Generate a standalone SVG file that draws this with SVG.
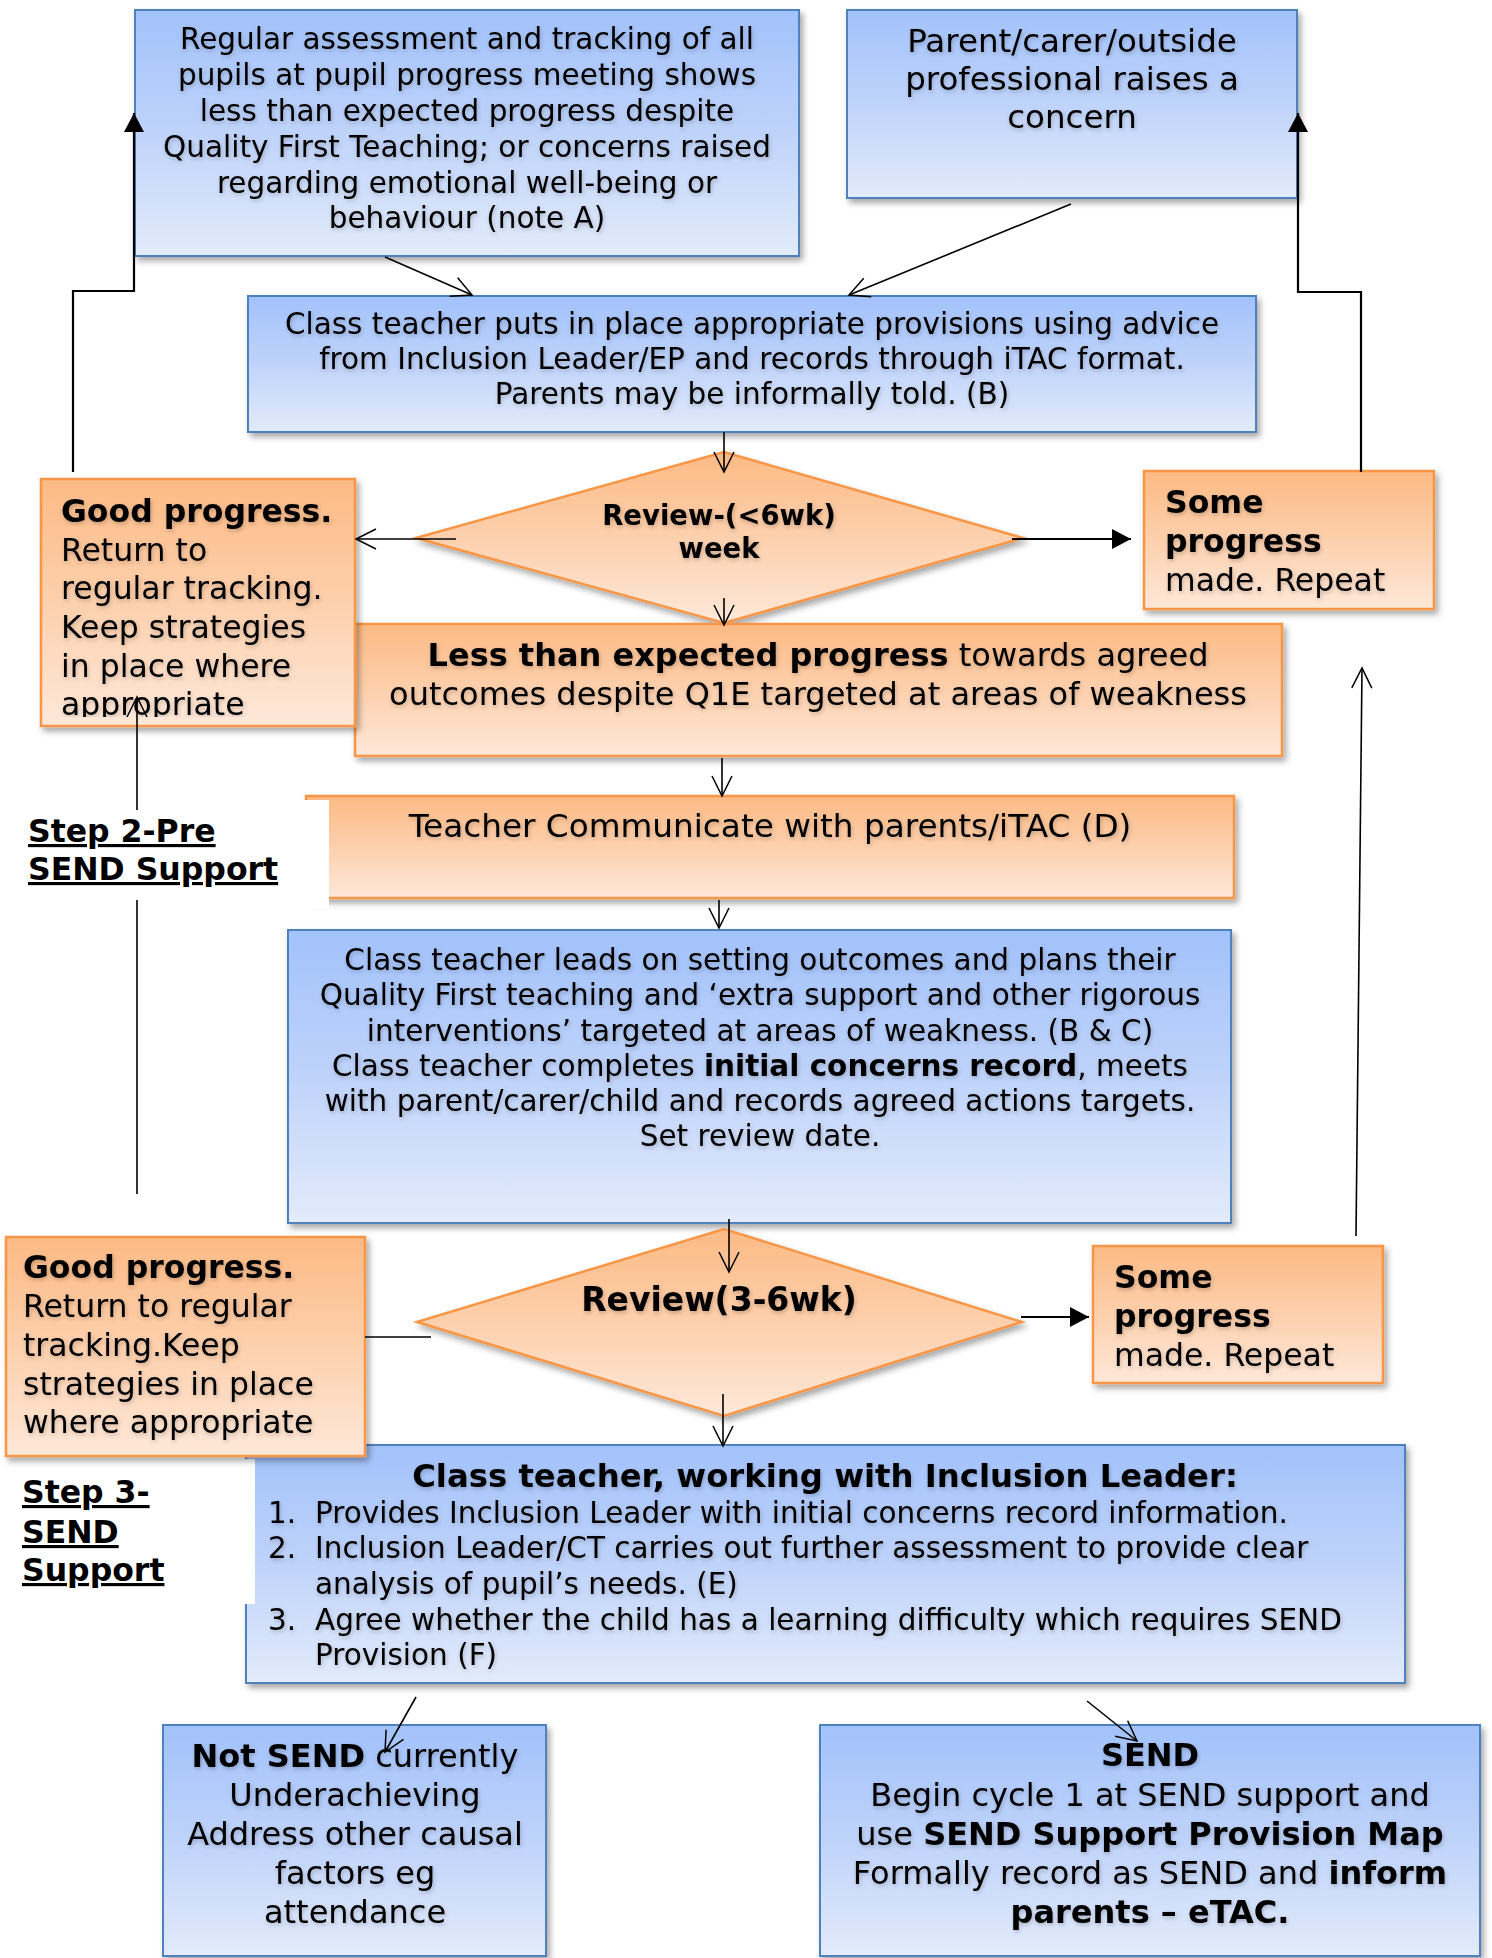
<svg xmlns="http://www.w3.org/2000/svg" width="1492" height="1958" viewBox="0 0 1492 1958">
<style>
text{font-family:"DejaVu Sans",Verdana,sans-serif;fill:#000}
.c{text-anchor:middle}
.b{font-weight:bold}
.blue{fill:url(#gb);stroke:#4f81bd;stroke-width:2}
.org{fill:url(#go);stroke:#f79646;stroke-width:2.5}
.ln{fill:none;stroke:#000;stroke-width:1.6}
.lp{fill:none;stroke:#000;stroke-width:2.2}
.f29{font-size:29.5px}
.f31{font-size:31.5px}
.f32{font-size:32px}
.u{text-decoration:underline}
.ts{filter:url(#tsh)}
</style>
<defs>
<linearGradient id="gb" x1="0" y1="0" x2="0" y2="1"><stop offset="0" stop-color="#a2c2fb"/><stop offset="0.5" stop-color="#bfd3fa"/><stop offset="1" stop-color="#e3ebfb"/></linearGradient>
<linearGradient id="go" x1="0" y1="0" x2="0" y2="1"><stop offset="0" stop-color="#fcba84"/><stop offset="0.5" stop-color="#fdd0ad"/><stop offset="1" stop-color="#fee8d9"/></linearGradient>
<filter id="sh" x="-5%" y="-5%" width="115%" height="125%"><feDropShadow dx="3" dy="4" stdDeviation="3" flood-color="#000" flood-opacity="0.35"/></filter>
<filter id="tsh" x="-5%" y="-10%" width="110%" height="130%"><feDropShadow dx="1" dy="2" stdDeviation="2" flood-color="#000" flood-opacity="0.22"/></filter>
<marker id="open" markerUnits="userSpaceOnUse" markerWidth="26" markerHeight="24" refX="20" refY="11" orient="auto" overflow="visible"><path d="M0,1 L20,11 L0,21" fill="none" stroke="#000" stroke-width="1.5"/></marker>
<marker id="fill" markerUnits="userSpaceOnUse" markerWidth="22" markerHeight="22" refX="19" refY="10" orient="auto" overflow="visible"><path d="M0,0 L19,10 L0,20 Z" fill="#000"/></marker>
<clipPath id="clipGood1"><rect x="41" y="479" width="314" height="238"/></clipPath>
</defs>

<g id="nodeA">
<rect class="blue" x="135" y="10" width="664" height="246" filter="url(#sh)"/>
<g class="ts">
<text class="c f29" x="467" y="49">Regular assessment and tracking of all</text>
<text class="c f29" x="467" y="85">pupils at pupil progress meeting shows</text>
<text class="c f29" x="467" y="121">less than expected progress despite</text>
<text class="c f29" x="467" y="157">Quality First Teaching; or concerns raised</text>
<text class="c f29" x="467" y="193">regarding emotional well-being or</text>
<text class="c f29" x="467" y="228">behaviour (note A)</text>
</g>
</g>

<g id="nodeB">
<rect class="blue" x="847" y="10" width="450" height="188" filter="url(#sh)"/>
<g class="ts">
<text class="c" style="font-size:32.5px" x="1072" y="52">Parent/carer/outside</text>
<text class="c" style="font-size:32.5px" x="1072" y="90">professional raises a</text>
<text class="c" style="font-size:32.5px" x="1072" y="128">concern</text>
</g>
</g>

<g id="nodeC">
<rect class="blue" x="248" y="296" width="1008" height="136" filter="url(#sh)"/>
<g class="ts">
<text class="c f29" x="752" y="334">Class teacher puts in place appropriate provisions using advice</text>
<text class="c f29" x="752" y="369">from Inclusion Leader/EP and records through iTAC format.</text>
<text class="c f29" x="752" y="404">Parents may be informally told. (B)</text>
</g>
</g>

<g id="review1">
<polygon class="org" points="416,538 724,452 1023,538 724,623" filter="url(#sh)"/>
<g class="ts">
<text class="c b" style="font-size:27.5px" x="719" y="525">Review-(&lt;6wk)</text>
<text class="c b" style="font-size:27.5px" x="719" y="558">week</text>
</g>
</g>

<g id="lessThan">
<rect class="org" x="355" y="624" width="927" height="132" filter="url(#sh)"/>
<g class="ts">
<text class="c f32" x="818" y="666"><tspan class="b">Less than expected progress</tspan> towards agreed</text>
<text class="c f32" x="818" y="705">outcomes despite Q1E targeted at areas of weakness</text>
</g>
</g>

<g id="good1">
<rect class="org" x="41" y="479" width="314" height="247" filter="url(#sh)"/>
<g clip-path="url(#clipGood1)">
<g class="ts">
<text class="f31 b" x="61" y="522">Good progress.</text>
<text class="f31" x="61" y="561">Return to</text>
<text class="f31" x="61" y="599">regular tracking.</text>
<text class="f31" x="61" y="638">Keep strategies</text>
<text class="f31" x="61" y="677">in place where</text>
<text class="f31" x="61" y="715">appropriate</text>
</g>
</g>
</g>

<g id="some1">
<rect class="org" x="1144" y="471" width="290" height="138" filter="url(#sh)"/>
<g class="ts">
<text class="f31 b" x="1165" y="513">Some</text>
<text class="f31 b" x="1165" y="552">progress</text>
<text class="f31" x="1165" y="591">made. Repeat</text>
</g>
</g>

<g id="teacherComm">
<rect class="org" x="306" y="796" width="928" height="102" filter="url(#sh)"/>
<text class="c ts" style="font-size:32.7px" x="770" y="837">Teacher Communicate with parents/iTAC (D)</text>
</g>

<g id="step2">
<rect x="20" y="800" width="309" height="108" fill="#fff"/>
<text class="f31 b u" x="28" y="842">Step 2-Pre</text>
<text class="f31 b u" x="28" y="880">SEND Support</text>
</g>

<g id="leads">
<rect class="blue" x="288" y="930" width="943" height="293" filter="url(#sh)"/>
<g class="ts">
<text class="c f29" x="760" y="970">Class teacher leads on setting outcomes and plans their</text>
<text class="c f29" x="760" y="1005">Quality First teaching and ‘extra support and other rigorous</text>
<text class="c f29" x="760" y="1041">interventions’ targeted at areas of weakness. (B &amp; C)</text>
<text class="c f29" x="760" y="1076">Class teacher completes <tspan class="b">initial concerns record</tspan>, meets</text>
<text class="c f29" x="760" y="1111">with parent/carer/child and records agreed actions targets.</text>
<text class="c f29" x="760" y="1146">Set review date.</text>
</g>
</g>

<g id="review2">
<polygon class="org" points="417,1322 724,1229 1022,1322 724,1416" filter="url(#sh)"/>
<text class="c b ts" style="font-size:33px" x="719" y="1311">Review(3-6wk)</text>
</g>

<g id="some2">
<rect class="org" x="1093" y="1246" width="290" height="137" filter="url(#sh)"/>
<g class="ts">
<text class="f31 b" x="1114" y="1288">Some</text>
<text class="f31 b" x="1114" y="1327">progress</text>
<text class="f31" x="1114" y="1366">made. Repeat</text>
</g>
</g>

<g id="inclusion">
<rect class="blue" x="246" y="1445" width="1159" height="238" filter="url(#sh)"/>
<g class="ts">
<text class="c b" style="font-size:32.3px" x="825" y="1487">Class teacher, working with Inclusion Leader:</text>
<text class="f29" x="268" y="1523">1.</text>
<text class="f29" x="315" y="1523">Provides Inclusion Leader with initial concerns record information.</text>
<text class="f29" x="268" y="1558">2.</text>
<text class="f29" x="315" y="1558">Inclusion Leader/CT carries out further assessment to provide clear</text>
<text class="f29" x="315" y="1594">analysis of pupil’s needs. (E)</text>
<text class="f29" x="268" y="1630">3.</text>
<text class="f29" x="315" y="1630">Agree whether the child has a learning difficulty which requires SEND</text>
<text class="f29" x="315" y="1665">Provision (F)</text>
</g>
</g>

<g id="step3">
<rect x="10" y="1459" width="245" height="145" fill="#fff"/>
<text class="f31 b u" x="22" y="1503">Step 3-</text>
<text class="f31 b u" x="22" y="1543">SEND</text>
<text class="f31 b u" x="22" y="1581">Support</text>
</g>

<g id="good2">
<rect class="org" x="6" y="1237" width="359" height="219" filter="url(#sh)"/>
<g class="ts">
<text class="f31 b" x="23" y="1278">Good progress.</text>
<text class="f31" x="23" y="1317">Return to regular</text>
<text class="f31" x="23" y="1356">tracking.Keep</text>
<text class="f31" x="23" y="1395">strategies in place</text>
<text class="f31" x="23" y="1433">where appropriate</text>
</g>
</g>

<g id="notSend">
<rect class="blue" x="163" y="1725" width="383" height="231" filter="url(#sh)"/>
<g class="ts">
<text class="c f32" x="355" y="1767"><tspan class="b">Not SEND</tspan> currently</text>
<text class="c f32" x="355" y="1806">Underachieving</text>
<text class="c f32" x="355" y="1845">Address other causal</text>
<text class="c f32" x="355" y="1884">factors eg</text>
<text class="c f32" x="355" y="1923">attendance</text>
</g>
</g>

<g id="send">
<rect class="blue" x="820" y="1725" width="660" height="231" filter="url(#sh)"/>
<g class="ts">
<text class="c f32 b" x="1150" y="1766">SEND</text>
<text class="c f32" x="1150" y="1806">Begin cycle 1 at SEND support and</text>
<text class="c f32" x="1150" y="1845">use <tspan class="b">SEND Support Provision Map</tspan></text>
<text class="c f32" x="1150" y="1884">Formally record as SEND and <tspan class="b">inform</tspan></text>
<text class="c f32 b" x="1150" y="1923">parents – eTAC.</text>
</g>
</g>

<g id="connectors">
<path class="ln" d="M385,257 L472,295" marker-end="url(#open)"/>
<path class="ln" d="M1071,204 L849,295" marker-end="url(#open)"/>
<path class="ln" d="M724,432 L724,472" marker-end="url(#open)"/>
<path class="ln" d="M456,539 L356,539" marker-end="url(#open)"/>
<path class="lp" d="M1012,539 L1131,539" marker-end="url(#fill)"/>
<path class="ln" d="M724,598 L724,625" marker-end="url(#open)"/>
<path class="ln" d="M722,758 L722,796" marker-end="url(#open)"/>
<path class="ln" d="M719,900 L719,928" marker-end="url(#open)"/>
<path class="ln" d="M729,1219 L729,1272" marker-end="url(#open)"/>
<path class="ln" d="M723,1394 L723,1446" marker-end="url(#open)"/>
<path class="lp" d="M1021,1317 L1089,1317" marker-end="url(#fill)"/>
<path class="ln" d="M416,1697 L385,1752" marker-end="url(#open)"/>
<path class="ln" d="M1087,1701 L1137,1741" marker-end="url(#open)"/>
<path class="lp" d="M73,472 L73,291 L134,291 L134,113" marker-end="url(#fill)"/>
<path class="lp" d="M1361,472 L1361,292 L1298,292 L1298,113" marker-end="url(#fill)"/>
<path class="ln" d="M137,810 L137,697" marker-end="url(#open)"/>
<path class="ln" d="M137,900 L137,1194"/>
<path class="ln" d="M1356,1236 L1362,668" marker-end="url(#open)"/>
<path class="ln" d="M365,1337 L431,1337"/>
</g>
</svg>
